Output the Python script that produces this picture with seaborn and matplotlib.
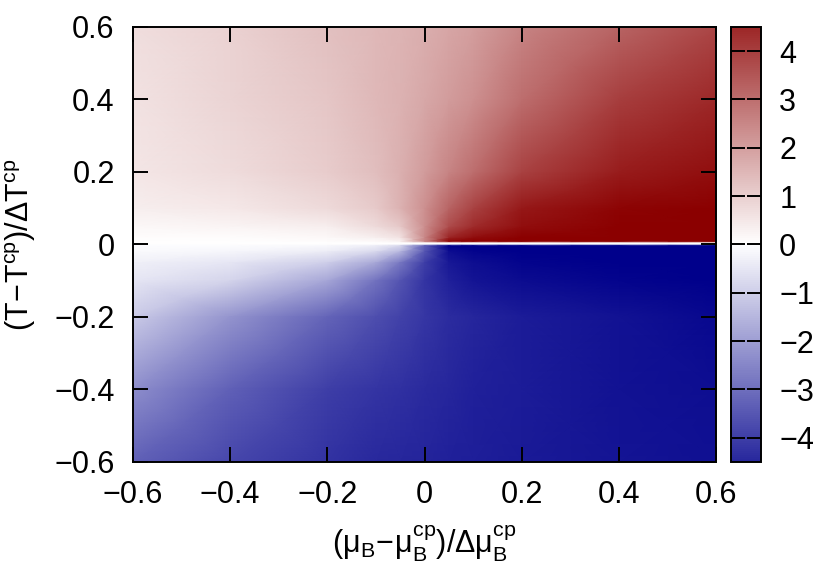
import numpy as np
import matplotlib
matplotlib.use("Agg")
import matplotlib.pyplot as plt
from matplotlib.ticker import FuncFormatter
import seaborn as sns

# grid (colour values, saturated at +-5.3)
mu = [-0.6, -0.4, -0.2, -0.1, -0.05, 0.0, 0.05, 0.1, 0.2, 0.4, 0.6]

T_upper = [0.0, 0.005, 0.009, 0.02, 0.05, 0.1, 0.2, 0.4, 0.6]
Z_upper = [
    [0.00, 0.00, 0.00, 0.00, 0.00, 0.00, 0.00, 0.00, 0.00, 0.00, 0.00],
    [0.00, 0.00, 0.00, 0.00, 0.00, 0.00, 0.00, 0.00, 0.00, 0.00, 0.00],
    [0.02, 0.03, 0.05, 0.12, 0.25, 2.50, 5.20, 5.30, 5.30, 5.30, 5.30],
    [0.05, 0.08, 0.15, 0.35, 0.60, 2.45, 4.50, 5.00, 5.30, 5.30, 5.30],
    [0.15, 0.22, 0.35, 0.75, 1.15, 2.35, 3.70, 4.35, 5.00, 5.30, 5.30],
    [0.35, 0.48, 0.77, 1.10, 1.60, 2.30, 3.20, 3.90, 4.80, 5.20, 5.30],
    [0.50, 0.73, 1.05, 1.35, 1.65, 2.05, 2.55, 3.00, 3.90, 4.70, 5.00],
    [0.62, 0.88, 1.20, 1.45, 1.60, 1.80, 2.05, 2.30, 3.00, 4.00, 4.45],
    [0.70, 0.95, 1.30, 1.48, 1.57, 1.68, 1.85, 2.00, 2.55, 3.20, 3.85],
]

T_lower = [0.0, -0.004, -0.02, -0.05, -0.1, -0.2, -0.4, -0.6]
Z_lower = [
    [0.00, 0.00, 0.00, 0.00, 0.00, 0.00, 0.00, 0.00, 0.00, 0.00, 0.00],
    [-0.05, -0.08, -0.15, -0.35, -0.80, -3.30, -5.30, -5.30, -5.30, -5.30, -5.30],
    [-0.10, -0.20, -0.40, -0.80, -1.50, -3.50, -5.00, -5.20, -5.30, -5.30, -5.30],
    [-0.30, -0.50, -1.00, -1.80, -2.80, -4.00, -4.80, -5.00, -5.20, -5.30, -5.30],
    [-0.50, -0.90, -1.85, -2.90, -3.55, -4.20, -4.60, -4.85, -5.05, -5.20, -5.30],
    [-1.10, -2.20, -3.20, -3.65, -3.90, -4.15, -4.35, -4.50, -4.70, -4.90, -5.10],
    [-2.35, -3.30, -4.00, -4.20, -4.30, -4.40, -4.50, -4.60, -4.70, -4.90, -5.00],
    [-3.30, -3.85, -4.25, -4.45, -4.50, -4.55, -4.60, -4.65, -4.75, -4.85, -4.95],
]

ticks = [-0.6, -0.4, -0.2, 0, 0.2, 0.4, 0.6]
cb_ticks = [-4, -3, -2, -1, 0, 1, 2, 3, 4]

sns.set_style("ticks")
plt.rcParams["font.family"] = ["Liberation Sans", "DejaVu Sans"]
plt.rcParams["mathtext.fontset"] = "custom"
plt.rcParams["mathtext.rm"] = "Liberation Sans"
plt.rcParams["mathtext.it"] = "Liberation Sans"
plt.rcParams["mathtext.default"] = "regular"
plt.rcParams["text.color"] = "black"
plt.rcParams["axes.labelcolor"] = "black"
plt.rcParams["xtick.color"] = "black"
plt.rcParams["ytick.color"] = "black"

cmap = sns.blend_palette(["#00008b", "#ffffff", "#8b0000"], as_cmap=True)
vmax = 5.3

fig = plt.figure(figsize=(8.3, 5.71), dpi=100)
ax = fig.add_axes([0.160, 0.191, 0.703, 0.762])
cax = fig.add_axes([0.881, 0.191, 0.036, 0.762])

for T, Z in [(T_upper, Z_upper), (T_lower, Z_lower)]:
    X, Y = np.meshgrid(mu, T)
    mesh = ax.pcolormesh(X, Y, np.array(Z), cmap=cmap, vmin=-vmax, vmax=vmax,
                         shading="gouraud")

ax.set_axisbelow(False)
ax.set_xlim(-0.6, 0.6)
ax.set_ylim(-0.6, 0.6)
ax.set_xticks(ticks)
ax.set_yticks(ticks)
fmt = FuncFormatter(lambda v, p: f"{v:g}".replace("-", "\u2212"))
ax.xaxis.set_major_formatter(fmt)
ax.yaxis.set_major_formatter(fmt)
ax.tick_params(direction="in", length=11, width=1.4, top=True, right=True,
               labelsize=22, pad=13, color="black", labelcolor="black")
for s in ax.spines.values():
    s.set_linewidth(1.4)
    s.set_color("black")
    s.set_zorder(5)

ax.set_xlabel(r"$(\mu_B\!-\!\mu_B^{cp})/\Delta\mu_B^{cp}$", fontsize=22, labelpad=10)
ax.set_ylabel(r"$(T\!-\!T^{cp})/\Delta T^{cp}$", fontsize=22, labelpad=12)

cbar = fig.colorbar(mesh, cax=cax)
cbar.ax.set_axisbelow(False)
cbar.ax.set_ylim(-4.5, 4.5)
cbar.set_ticks(cb_ticks)
cbar.ax.yaxis.set_major_formatter(fmt)
cbar.ax.tick_params(direction="in", length=10, width=1.4, left=True, right=True,
                    labelsize=22, pad=13, color="black", labelcolor="black")
cbar.outline.set_linewidth(1.4)
cbar.outline.set_edgecolor("black")

fig.savefig("out.png", dpi=100)
